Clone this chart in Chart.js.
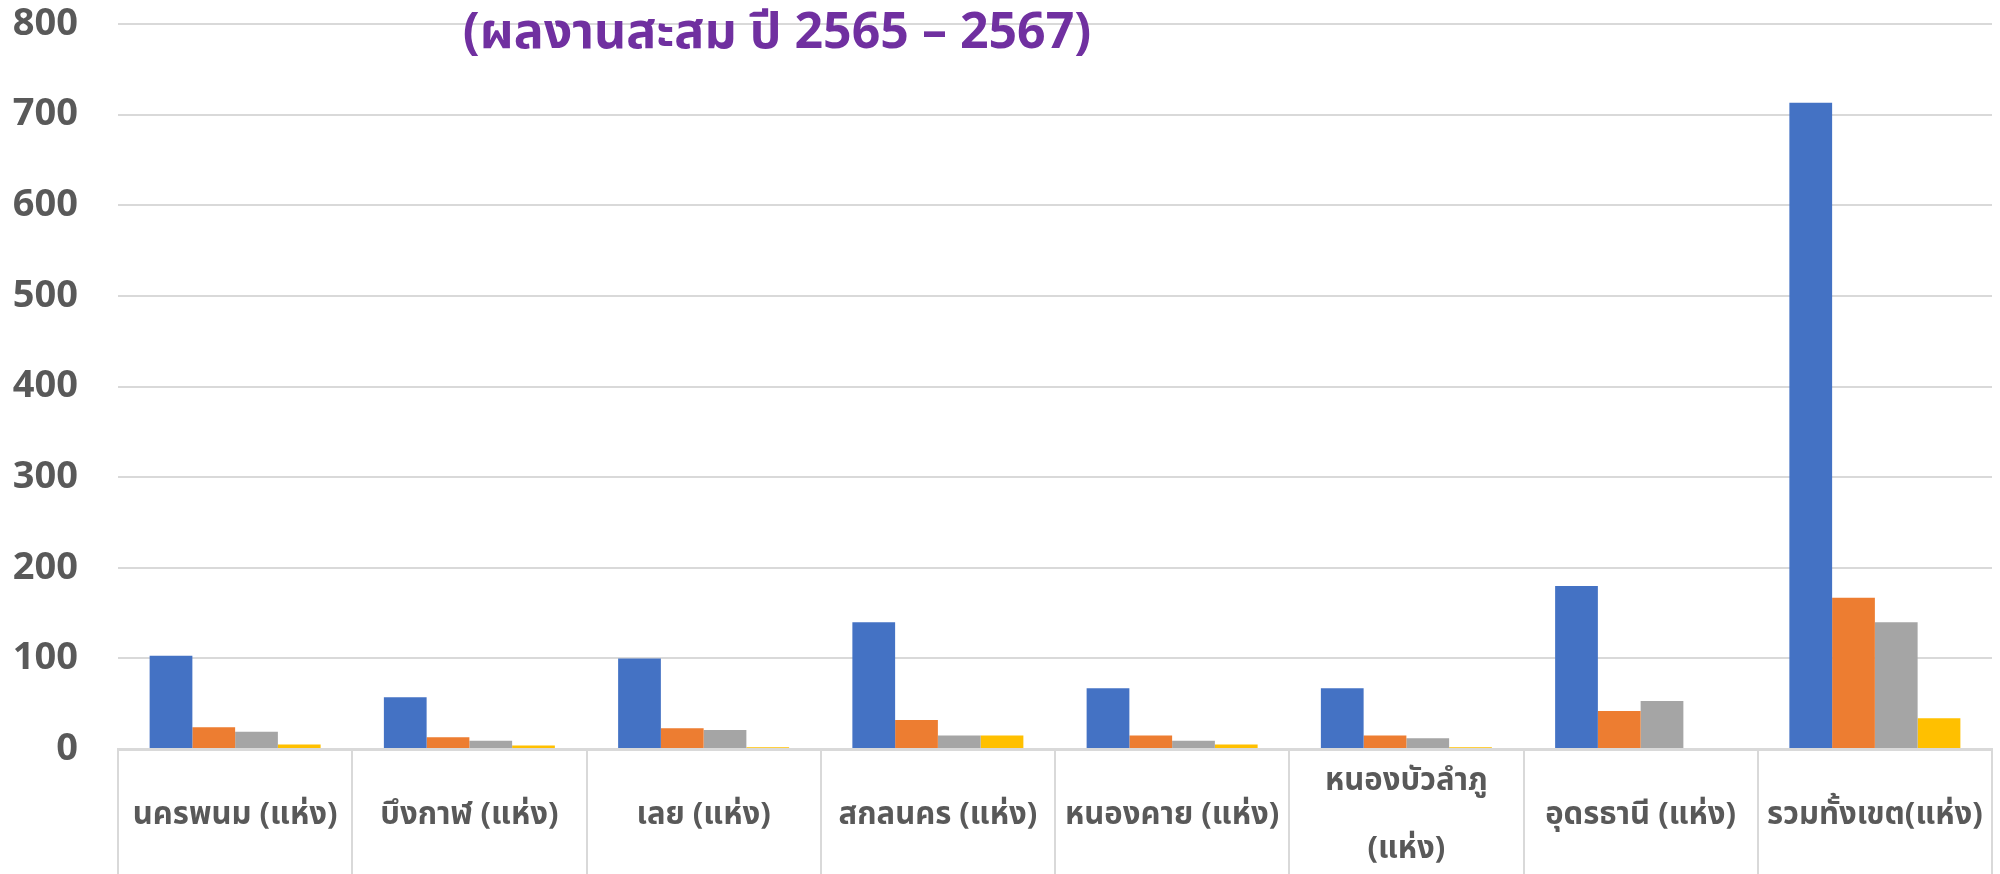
<!DOCTYPE html>
<html lang="th">
<head>
<meta charset="utf-8">
<title>ผลงานสะสม ปี 2565 – 2567</title>
<script src="https://cdn.jsdelivr.net/npm/chart.js@4.4.1/dist/chart.umd.min.js"></script>
<style>
    html, body { margin: 0; padding: 0; background: #fff; }
    #wrap { position: relative; width: 2000px; height: 874px; }
</style>
</head>
<body>
<div id="wrap"><canvas id="chart" width="2000" height="874"></canvas></div>
<script>
/* ---------- data ---------- */
const provinces = [
    "นครพนม (แห่ง)", "บึงกาฬ (แห่ง)", "เลย (แห่ง)", "สกลนคร (แห่ง)",
    "หนองคาย (แห่ง)", ["หนองบัวลำภู", "(แห่ง)"], "อุดรธานี (แห่ง)", "รวมทั้งเขต(แห่ง)"
];
const series1 = [103, 57, 100, 140, 67, 67, 180, 713];
const series2 = [24, 13, 23, 32, 15, 15, 42, 167];
const series3 = [19, 9, 21, 15, 9, 12, 53, 140];
const series4 = [5, 4, 2, 15, 5, 2, 0, 34];
const yTicks = [0, 100, 200, 300, 400, 500, 600, 700, 800];
const titleText = "(ผลงานสะสม ปี 2565 – 2567)";

const thaiFont = "'Noto Sans Thai', 'Noto Sans', 'DejaVu Sans', sans-serif";

/* ---------- title drawn over the plot, as in the source ---------- */
const titlePlugin = {
    id: "overTitle",
    afterDraw(chart) {
        const ctx = chart.ctx;
        ctx.save();
        ctx.font = "bold 50px " + thaiFont;
        ctx.fillStyle = "#7030A0";
        ctx.textAlign = "center";
        ctx.textBaseline = "middle";
        ctx.fillText(titleText, 777, 38);
        ctx.restore();
    }
};

new Chart(document.getElementById("chart"), {
    type: "bar",
    data: {
        labels: provinces,
        datasets: [
            { label: "ชุดที่ 1", data: series1, backgroundColor: "#4472C4" },
            { label: "ชุดที่ 2", data: series2, backgroundColor: "#ED7D31" },
            { label: "ชุดที่ 3", data: series3, backgroundColor: "#A5A5A5" },
            { label: "ชุดที่ 4", data: series4, backgroundColor: "#FFC000" }
        ]
    },
    options: {
        responsive: false,
        animation: false,
        layout: { padding: { top: 24, right: 8, left: 0, bottom: 0 } },
        datasets: { bar: { categoryPercentage: 0.73, barPercentage: 1.0 } },
        plugins: { legend: { display: false }, title: { display: false }, tooltip: { enabled: false } },
        scales: {
            x: {
                offset: true,
                grid: { drawOnChartArea: false, drawTicks: true, tickLength: 125, color: "#D9D9D9", lineWidth: 2, offset: true },
                border: { color: "#D9D9D9", width: 3 },
                ticks: {
                    color: "#595959",
                    font: { family: thaiFont, size: 31, weight: "bold", lineHeight: "68px" },
                    padding: -90,
                    crossAlign: "center",
                    maxRotation: 0, minRotation: 0, autoSkip: false
                },
                afterFit(scale) { scale.height = 125; scale.paddingLeft = 0; scale.paddingRight = 0; }
            },
            y: {
                min: 0, max: 800,
                afterBuildTicks(scale) { scale.ticks = yTicks.map(v => ({ value: v })); },
                grid: { color: "#D9D9D9", lineWidth: 2, drawTicks: false },
                border: { display: false },
                ticks: {
                    color: "#595959",
                    font: { family: "'Open Sans', sans-serif", size: 38, weight: "bold" },
                    padding: 40
                },
                afterFit(scale) { scale.width = 118; scale.paddingTop = 0; scale.paddingBottom = 0; }
            }
        }
    },
    plugins: [titlePlugin]
});
</script>
</body>
</html>
